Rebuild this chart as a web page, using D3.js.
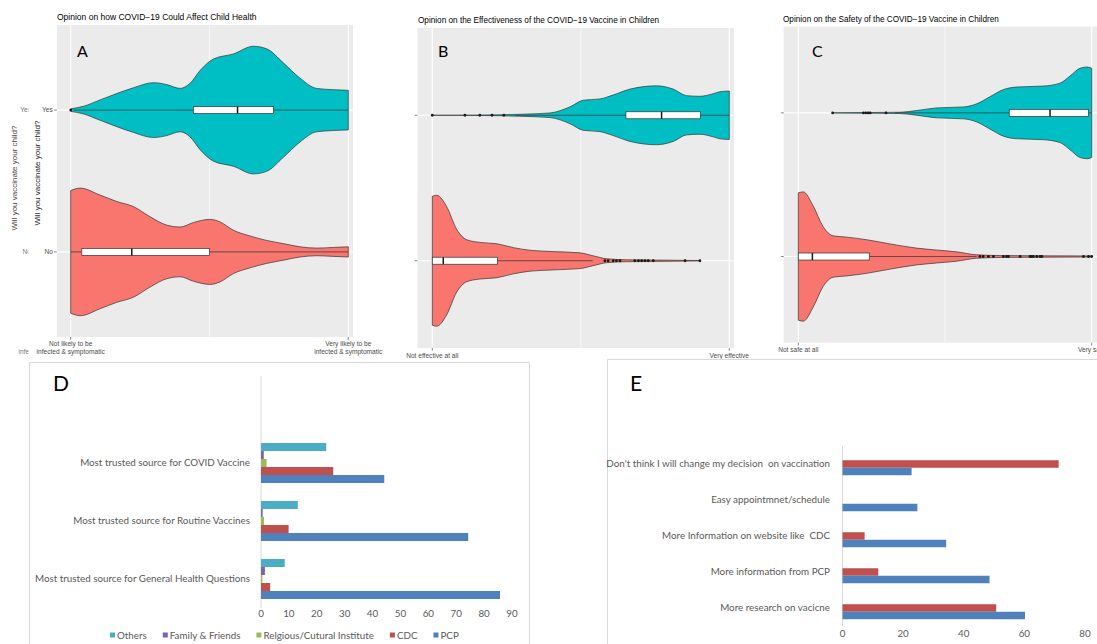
<!DOCTYPE html>
<html>
<head>
<meta charset="utf-8">
<script src="https://cdn.jsdelivr.net/npm/d3@7"></script>
<style>
	body { margin: 0; background: #fff; }
	svg { display: block; }
	.gg text { font-family: "Liberation Sans", Arial, sans-serif; }
	.xl text { font-family: Lato, "Open Sans", sans-serif; }
</style>
</head>
<body>
<div id="fig"></div>
<script>

// ---- violin data (scores 0..100, profiles are [score, relative half width]) ----
var voteLevels = ["No", "Yes"];

// A: how covid could affect child health
var healthYes = [[0,0.02],[4.6,0.06],[10.6,0.16],[16.6,0.26],[22.6,0.35],[29.8,0.43],[34.6,0.4],[39.4,0.34],[43,0.42],[46.6,0.62],[51.4,0.8],[58.6,0.88],[65.8,1],[70.6,0.96],[76.6,0.74],[82.6,0.5],[88.6,0.34],[94.6,0.32],[100,0.31]];
var healthNo = [[0,0.96],[3.4,1],[10.6,0.89],[16.6,0.79],[22.6,0.71],[28.6,0.55],[34.6,0.42],[39.4,0.39],[44.2,0.46],[50.2,0.51],[53.8,0.47],[58.6,0.34],[64.6,0.25],[70.6,0.18],[76.6,0.13],[82.6,0.08],[88.6,0.06],[94.6,0.07],[100,0.08]];
// boxes: [low whisker, q1, median, q3, high whisker]
var healthYesBox = [1, 44.2, 60.1, 73, 100];
var healthNoBox = [0, 4, 22, 50, 100];
var healthYesOut = [0];
var healthNoOut = [];

// B: effectiveness of the vaccine
var effectYes = [[0,0],[16,0.003],[29.5,0.015],[39.6,0.035],[46.4,0.13],[50.8,0.23],[56.5,0.25],[60.9,0.31],[66.6,0.4],[75.5,0.45],[81.1,0.4],[85.6,0.3],[90.1,0.29],[94.6,0.33],[96.9,0.36],[100,0.37]];
var effectNo = [[0,0.985],[1.5,1],[4.8,0.83],[8.2,0.48],[11.6,0.32],[16,0.28],[21.7,0.26],[27.3,0.2],[32.9,0.16],[40.7,0.14],[49.7,0.12],[54.2,0.075],[58.7,0.03],[65.4,0.015],[75.5,0.01],[90,0.003]];
var effectYesBox = [28, 65.2, 77.2, 90.3, 100];
var effectNoBox = [0, 0, 3.7, 21.9, 54];
var effectYesOut = [0, 11, 16, 20.1, 24.1];
var effectNoOut = [58.1, 59.2, 60.9, 62, 63.2, 68.2, 69.4, 70.5, 71.6, 72.7, 74.4, 85.1, 90.1];

// C: safety of the vaccine
var safeYes = [[11.7,0],[23.3,0.005],[34.7,0.01],[40.3,0.036],[47.2,0.077],[56.3,0.092],[60.8,0.14],[65.3,0.25],[69.9,0.36],[74.4,0.4],[83.5,0.415],[89.2,0.46],[92.6,0.57],[96,0.69],[98.5,0.71],[100,0.69]];
var safeNo = [[0,0.985],[1.7,1],[5.1,0.78],[8.5,0.46],[11.9,0.32],[16.5,0.3],[23.3,0.26],[31.3,0.195],[40.3,0.13],[47.2,0.1],[54,0.072],[60.8,0.026],[68.8,0.015],[85.8,0.01],[100,0.008]];
var safeYesBox = [33, 71.9, 85.8, 98.9, 100];
var safeNoBox = [0, 0, 4.8, 24.2, 60.8];
var safeYesOut = [11.7, 22.2, 23, 23.8, 24.5, 29.9];
var safeNoOut = [61.9, 63, 64.8, 66.5, 69.9, 71, 71.6, 75.6, 79, 79.5, 80.1, 81.3, 82.4, 83, 97.2, 98.9, 100];

// ---- D: most trusted source ----
var trustCategories = ["Most trusted source for COVID Vaccine", "Most trusted source for Routine Vaccines", "Most trusted source for General Health Questions"];
var trustSources = ["Others", "Family & Friends", "Relgious/Cutural Institute", "CDC", "PCP"];
var trustOthers = [23.4, 13.2, 8.5];
var trustFamily = [1.0, 0.6, 1.4];
var trustReligious = [2.0, 1.1, 0.5];
var trustCDC = [25.9, 9.9, 3.3];
var trustPCP = [44.2, 74.3, 85.7];
var trustTicks = [0, 10, 20, 30, 40, 50, 60, 70, 80, 90];

// ---- E: what would change the decision ----
var changeReasons = ["Don't think I will change my decision  on vaccination", "Easy appointmnet/schedule", "More Information on website like  CDC", "More information from PCP", "More research on vacicne"];
var changeNo = [71.3, 0, 7.3, 11.8, 50.7];
var changeYes = [22.8, 24.7, 34.2, 48.5, 60.2];
var changeTicks = [0, 20, 40, 60, 80];


var voteColor = {Yes: "#00BFC4", No: "#F8766D"};

var svg = d3.select("#fig")
	.append("svg")
		.attr("width", 1097)
		.attr("height", 644);

function violinPanel(p) {
	var g = svg.append("g").attr("class", "gg");
	var x = d3.scaleLinear().domain([0, 100]).range([p.x0, p.x100]);
	var left = x(0) - 0.05 * (x(100) - x(0));
	var y = d3.scalePoint().domain(voteLevels).range([p.bottom, p.top]).padding(0.6);
	var hwMax = 0.45 * y.step();

	g.append("clipPath").attr("id", "clip" + p.letter)
		.append("rect")
		.attr("x", left).attr("y", p.top)
		.attr("width", p.right - left).attr("height", p.bottom - p.top);

	g.append("rect")
		.attr("x", left).attr("y", p.top)
		.attr("width", p.right - left).attr("height", p.bottom - p.top)
		.attr("fill", "#EBEBEB");

	var inner = g.append("g").attr("clip-path", "url(#clip" + p.letter + ")");

	// grid
	inner.selectAll(".gx").data([0, 50, 100]).enter().append("line")
		.attr("x1", d => x(d)).attr("x2", d => x(d))
		.attr("y1", p.top).attr("y2", p.bottom)
		.attr("stroke", "#fff").attr("stroke-width", d => d == 50 ? 0.6 : 1.1);
	inner.selectAll(".gy").data(voteLevels).enter().append("line")
		.attr("x1", left).attr("x2", p.right)
		.attr("y1", d => y(d)).attr("y2", d => y(d))
		.attr("stroke", "#fff").attr("stroke-width", 1.1);

	// violins
	voteLevels.forEach(function(lv) {
		var cy = y(lv);
		var area = d3.area()
			.curve(d3.curveMonotoneX)
			.x(d => x(d[0]))
			.y0(d => cy + d[1] * hwMax)
			.y1(d => cy - d[1] * hwMax);
		inner.append("path")
			.datum(p.profiles[lv])
			.attr("d", area)
			.attr("fill", voteColor[lv])
			.attr("stroke", "#333")
			.attr("stroke-width", 0.7);
	});

	// boxplots
	voteLevels.forEach(function(lv) {
		var b = p.boxes[lv], cy = y(lv), bh = 3.5;
		var bg = inner.append("g");
		bg.selectAll("line.w").data([[b[0], b[1]], [b[3], b[4]]]).enter().append("line")
			.attr("x1", d => x(d[0])).attr("x2", d => x(d[1]))
			.attr("y1", cy).attr("y2", cy)
			.attr("stroke", "#333").attr("stroke-width", 0.7);
		bg.append("rect")
			.attr("x", x(b[1])).attr("y", cy - bh)
			.attr("width", x(b[3]) - x(b[1])).attr("height", 2 * bh)
			.attr("fill", "#fff").attr("stroke", "#333").attr("stroke-width", 0.7);
		bg.append("line")
			.attr("x1", x(b[2])).attr("x2", x(b[2]))
			.attr("y1", cy - bh).attr("y2", cy + bh)
			.attr("stroke", "#1a1a1a").attr("stroke-width", 1.5);
		bg.selectAll("circle").data(p.outliers[lv]).enter().append("circle")
			.attr("cx", d => x(d)).attr("cy", cy).attr("r", 1.4)
			.attr("fill", "#1a1a1a");
	});

	// axis ticks
	g.selectAll(".tx").data([0, 100]).enter().append("line")
		.attr("x1", d => x(d)).attr("x2", d => x(d))
		.attr("y1", p.bottom).attr("y2", p.bottom + 2.7)
		.attr("stroke", "#333").attr("stroke-width", 0.6);
	g.selectAll(".ty").data(voteLevels).enter().append("line")
		.attr("x1", left - 2.7).attr("x2", left)
		.attr("y1", d => y(d)).attr("y2", d => y(d))
		.attr("stroke", "#333").attr("stroke-width", 0.6);

	// tick labels
	[0, 100].forEach(function(v, i) {
		var t = g.append("text")
			.attr("x", x(v)).attr("y", p.labelY)
			.attr("text-anchor", "middle")
			.style("font-size", "6.6px").attr("fill", "#4D4D4D");
		p.tickLabels[i].forEach(function(line, k) {
			t.append("tspan").attr("x", x(v)).attr("dy", k ? 8 : 0).text(line);
		});
	});
	if (p.yLabels) {
		g.selectAll(".yl").data(voteLevels).enter().append("text")
			.attr("x", left - 4).attr("y", d => y(d) + 2.3)
			.attr("text-anchor", "end")
			.style("font-size", "6.6px").attr("fill", "#4D4D4D")
			.text(d => d);
	}

	// title and panel letter
	g.append("text")
		.attr("x", p.titleX).attr("y", p.titleY)
		.style("font-size", p.titleSize + "px").attr("fill", "#000")
		.text(p.title);
	g.append("text")
		.attr("x", p.letterX).attr("y", p.letterY)
		.style("font-family", "Lato, 'Open Sans', sans-serif")
		.style("font-size", "16px").attr("fill", "#000")
		.text(p.letter);
	return {x: x, y: y, left: left};
}

// ---- panel A ----
var pa = violinPanel({
	letter: "A", x0: 70.7, x100: 348.3, right: 353, top: 25, bottom: 337,
	profiles: {Yes: healthYes, No: healthNo},
	boxes: {Yes: healthYesBox, No: healthNoBox},
	outliers: {Yes: healthYesOut, No: healthNoOut},
	tickLabels: [["Not likely to be", "infected & symptomatic"], ["Very likely to be", "infected & symptomatic"]],
	labelY: 345.5, yLabels: true,
	title: "Opinion on how COVID\u221219 Could Affect Child Health", titleX: 57, titleY: 19.5, titleSize: 8.5,
	letterX: 77, letterY: 57
});

// y axis titles of panel A (one from an underlying copy of the plot)
var ga = svg.append("g").attr("class", "gg");
ga.append("text")
	.attr("transform", "translate(39.5,173) rotate(-90)")
	.attr("text-anchor", "middle")
	.style("font-size", "8px").attr("fill", "#222")
	.text("Will you vaccinate your child?");
ga.append("text")
	.attr("transform", "translate(17,178) rotate(-90)")
	.attr("text-anchor", "middle")
	.style("font-size", "8px").attr("fill", "#444")
	.text("Will you vaccinate your child?");
ga.append("clipPath").attr("id", "clipCopy")
	.append("rect").attr("x", 0).attr("y", 0).attr("width", 28.5).attr("height", 360);
var copy = ga.append("g").attr("clip-path", "url(#clipCopy)");
copy.selectAll(".cy").data(voteLevels).enter().append("text")
	.attr("x", 31).attr("y", d => pa.y(d) + 2.3)
	.attr("text-anchor", "end")
	.style("font-size", "6.6px").attr("fill", "#777")
	.text(d => d);
var ct = copy.append("text")
	.attr("x", 52.7).attr("y", 345.5)
	.attr("text-anchor", "middle")
	.style("font-size", "6.6px").attr("fill", "#777");
ct.append("tspan").attr("x", 52.7).text("Not likely to be");
ct.append("tspan").attr("x", 52.7).attr("dy", 8).text("infected & symptomatic");

// ---- panel B ----
violinPanel({
	letter: "B", x0: 432.3, x100: 729.3, right: 734, top: 28, bottom: 348,
	profiles: {Yes: effectYes, No: effectNo},
	boxes: {Yes: effectYesBox, No: effectNoBox},
	outliers: {Yes: effectYesOut, No: effectNoOut},
	tickLabels: [["Not effective at all"], ["Very effective"]],
	labelY: 357.5, yLabels: false,
	title: "Opinion on the Effectiveness of the COVID\u221219 Vaccine in Children", titleX: 418, titleY: 23, titleSize: 8.2,
	letterX: 438, letterY: 57
});

// ---- panel C ----
violinPanel({
	letter: "C", x0: 798.3, x100: 1091.7, right: 1097, top: 26.7, bottom: 342.7,
	profiles: {Yes: safeYes, No: safeNo},
	boxes: {Yes: safeYesBox, No: safeNoBox},
	outliers: {Yes: safeYesOut, No: safeNoOut},
	tickLabels: [["Not safe at all"], ["Very safe"]],
	labelY: 351.5, yLabels: false,
	title: "Opinion on the Safety of the COVID\u221219 Vaccine in Children", titleX: 783, titleY: 22, titleSize: 8.2,
	letterX: 812, letterY: 57
});

// ---- panel D ----
(function() {
	var g = svg.append("g").attr("class", "xl");
	g.append("path").attr("d", "M29.5,644V362.5H529.5V644")
		.attr("fill", "none").attr("stroke", "#D9D9D9");
	var x = d3.scaleLinear().domain([0, 90]).range([261, 512]);
	var y = d3.scaleBand().domain(trustCategories).range([434, 608]).paddingInner(0.31).paddingOuter(0.155);
	var sub = d3.scaleBand().domain(trustSources).range([0, y.bandwidth()]);
	var values = [trustOthers, trustFamily, trustReligious, trustCDC, trustPCP];
	var colors = ["#4BACC6", "#8064A2", "#9BBB59", "#C0504D", "#4F81BD"];

	g.append("line").attr("x1", x(0)).attr("x2", x(0)).attr("y1", 376).attr("y2", 608)
		.attr("stroke", "#D9D9D9");

	trustSources.forEach(function(s, i) {
		g.selectAll(".b" + i).data(trustCategories).enter().append("rect")
			.attr("x", x(0))
			.attr("y", (d) => y(d) + sub(s))
			.attr("width", (d, j) => x(values[i][j]) - x(0))
			.attr("height", sub.bandwidth())
			.attr("fill", colors[i]);
	});

	g.selectAll(".cat").data(trustCategories).enter().append("text")
		.attr("x", 250).attr("y", d => y(d) + y.bandwidth() / 2 + 3.4)
		.attr("text-anchor", "end")
		.style("font-size", "9.8px").attr("fill", "#595959")
		.text(d => d);
	g.selectAll(".tk").data(trustTicks).enter().append("text")
		.attr("x", d => x(d)).attr("y", 616.5)
		.attr("text-anchor", "middle")
		.style("font-size", "9.8px").attr("fill", "#595959")
		.text(d => d);

	// legend
	var lx = 110;
	trustSources.forEach(function(s, i) {
		g.append("rect").attr("x", lx).attr("y", 632.5).attr("width", 5).attr("height", 5).attr("fill", colors[i]);
		var t = g.append("text").attr("x", lx + 7).attr("y", 638.5)
			.style("font-size", "9.8px").attr("fill", "#595959").text(s);
		lx += 7 + t.node().getComputedTextLength() + 16;
	});

	g.append("text").attr("x", 53).attr("y", 391)
		.style("font-size", "21px").attr("fill", "#000").text("D");
})();

// ---- panel E ----
(function() {
	var g = svg.append("g").attr("class", "xl");
	g.append("path").attr("d", "M607.5,644V359.5H1097")
		.attr("fill", "none").attr("stroke", "#D9D9D9");
	var x = d3.scaleLinear().domain([0, 80]).range([842.5, 1085]);
	var y = d3.scaleBand().domain(changeReasons).range([446, 626]).paddingInner(0.375).paddingOuter(0.1875);
	var bh = y.bandwidth() / 3;

	g.append("line").attr("x1", x(0)).attr("x2", x(0)).attr("y1", 446).attr("y2", 626)
		.attr("stroke", "#D9D9D9");

	g.selectAll(".no").data(changeReasons).enter().append("rect")
		.attr("x", x(0)).attr("y", d => y(d) + bh)
		.attr("width", (d, i) => x(changeNo[i]) - x(0)).attr("height", bh)
		.attr("fill", "#C0504D");
	g.selectAll(".yes").data(changeReasons).enter().append("rect")
		.attr("x", x(0)).attr("y", d => y(d) + 2 * bh)
		.attr("width", (d, i) => x(changeYes[i]) - x(0)).attr("height", bh)
		.attr("fill", "#4F81BD");

	g.selectAll(".cat").data(changeReasons).enter().append("text")
		.attr("x", 830).attr("y", d => y(d) + y.bandwidth() / 2 + 3.4)
		.attr("text-anchor", "end")
		.attr("xml:space", "preserve")
		.style("white-space", "pre")
		.style("font-size", "9.8px").attr("fill", "#595959")
		.text(d => d);
	g.selectAll(".tk").data(changeTicks).enter().append("text")
		.attr("x", d => x(d)).attr("y", 636.5)
		.attr("text-anchor", "middle")
		.style("font-size", "9.8px").attr("fill", "#595959")
		.text(d => d);

	g.append("text").attr("x", 630).attr("y", 391)
		.style("font-size", "21px").attr("fill", "#000").text("E");
})();

</script>
</body>
</html>
